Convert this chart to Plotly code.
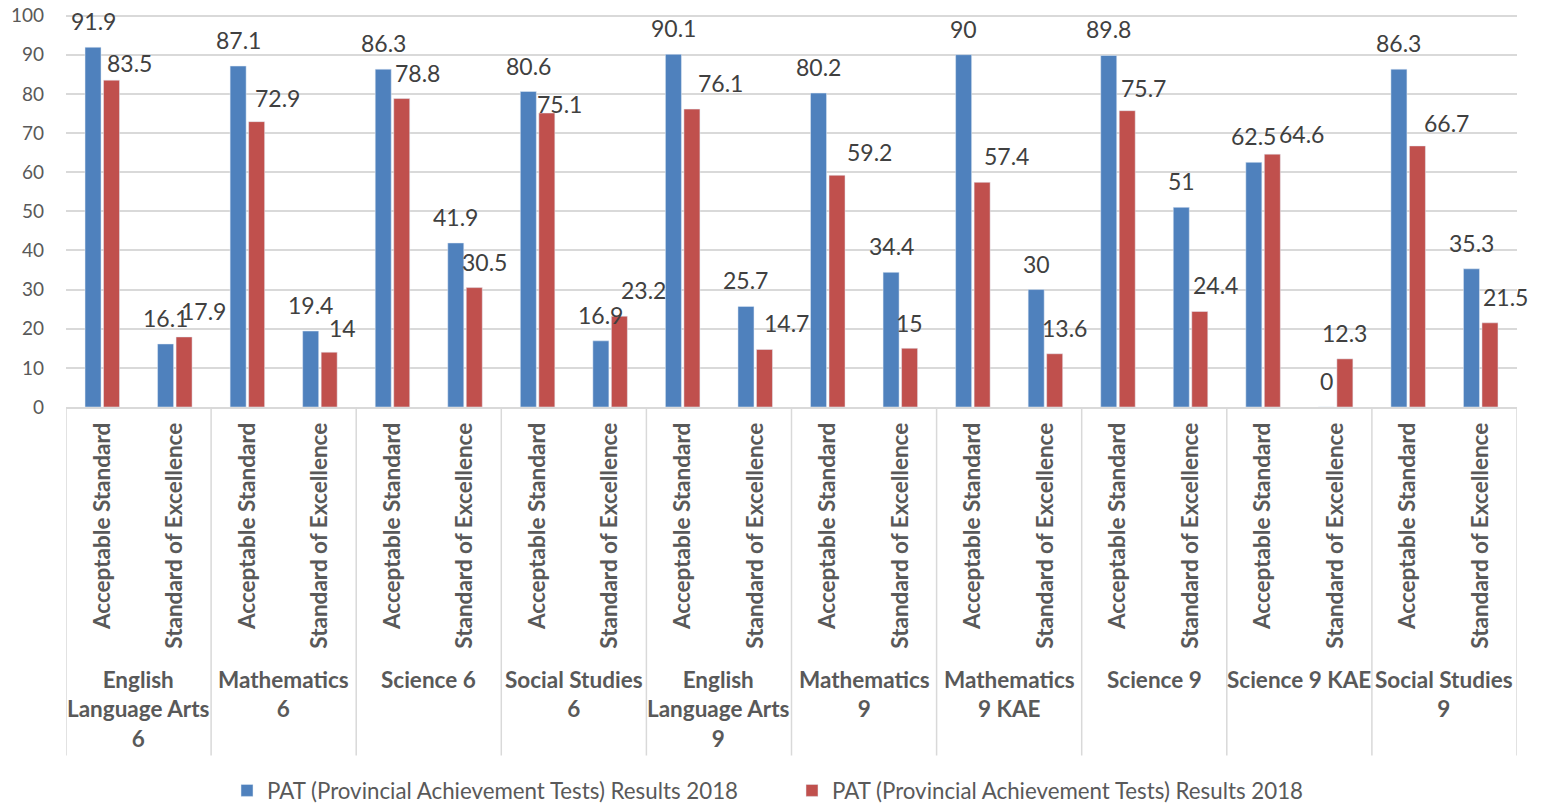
import plotly.graph_objects as go

# ---- data ----
groups = ["English<br>Language Arts<br>6", "Mathematics<br>6", "Science 6", "Social Studies<br>6",
          "English<br>Language Arts<br>9", "Mathematics<br>9", "Mathematics<br>9 KAE", "Science 9",
          "Science 9 KAE", "Social Studies<br>9"]
standards = ["Acceptable Standard", "Standard of Excellence"]
series_name = "PAT (Provincial Achievement Tests) Results 2018"
blue_vals = [91.9, 16.1, 87.1, 19.4, 86.3, 41.9, 80.6, 16.9, 90.1, 25.7,
             80.2, 34.4, 90, 30, 89.8, 51, 62.5, 0, 86.3, 35.3]
red_vals = [83.5, 17.9, 72.9, 14, 78.8, 30.5, 75.1, 23.2, 76.1, 14.7,
            59.2, 15, 57.4, 13.6, 75.7, 24.4, 64.6, 12.3, 66.7, 21.5]
y_ticks = [0, 10, 20, 30, 40, 50, 60, 70, 80, 90, 100]

# ---- style ----
BLUE = "#4F81BD"
RED = "#C0504D"
GRID = "#D9D9D9"
TXT = "#595959"
LBL = "#404040"
FONT = "Lato"
bargap = 0.49
bargroupgap = 0.135
# label placement (pixels): blue labels centred, red labels nudged as in the source
blue_label_dy = 26
red_label_dx = [18, 19, 21, 13, 16, 10, 13, 24, 29, 22, 32, 0, 24, 10, 16, 16, 29, 0, 29, 16]
red_label_dy = [17, 26, 24, 24, 26, 26, 9, 26, 26, 26, 23, 25, 26, 26, 23, 26, 20, 26, 23, 26]

# page has an 8px body margin: figure is sized to fit the 1549x806 window
PAGE_OFF = 8
W, H = 1549 - PAGE_OFF, 806 - PAGE_OFF
Y_TOP = 100.4  # small headroom so the 100 gridline is drawn
PL, PW = 66, 1451
PB = 407  # window y of value 0
PH = 391 * Y_TOP / 100
PT = PB - PH

n = len(blue_vals)
xs = list(range(n))
tick_text = [standards[i % 2] for i in xs]

fig = go.Figure()
fig.add_trace(go.Bar(x=xs, y=blue_vals, name=series_name, marker_color=BLUE))
fig.add_trace(go.Bar(x=xs, y=red_vals, name=series_name, marker_color=RED))

slot = (1 - bargap) / 2
annotations = []
for i in xs:
    annotations.append(dict(x=i - slot / 2, y=blue_vals[i], xref="x", yref="y",
                            text=f"{blue_vals[i]:g}", showarrow=False, yanchor="middle",
                            yshift=blue_label_dy, font=dict(family=FONT, size=23, color=LBL)))
    annotations.append(dict(x=i + slot / 2, y=red_vals[i], xref="x", yref="y",
                            text=f"{red_vals[i]:g}", showarrow=False, yanchor="middle",
                            xshift=red_label_dx[i], yshift=red_label_dy[i],
                            font=dict(family=FONT, size=23, color=LBL)))

def py(page_y):
    return (PB - page_y) / PH

def px(page_x):
    return (page_x - PL) / PW

for g, name in enumerate(groups):
    annotations.append(dict(x=2 * g + 0.5, y=py(664), xref="x", yref="paper",
                            text=f"<b>{name}</b>", showarrow=False, yanchor="top", xanchor="center",
                            align="center", font=dict(family=FONT, size=22.5, color=TXT)))

shapes = []
for g in range(len(groups) + 1):
    shapes.append(dict(type="line", xref="x", yref="paper", x0=2 * g - 0.5, x1=2 * g - 0.5,
                       y0=0, y1=py(755), line=dict(color=GRID, width=1.5)))
shapes.append(dict(type="line", xref="paper", yref="paper", x0=px(1545), x1=px(1545),
                   y0=py(0), y1=py(806), line=dict(color=GRID, width=1.5)))

fig.update_layout(
    width=W, height=H,
    margin=dict(l=PL - PAGE_OFF, r=W - (PL - PAGE_OFF) - PW, t=PT - PAGE_OFF,
                b=H - (PB - PAGE_OFF), autoexpand=False),
    paper_bgcolor="white", plot_bgcolor="white",
    barmode="group", bargap=bargap, bargroupgap=bargroupgap,
    font=dict(family=FONT, color=TXT),
    showlegend=True,
    legend=dict(orientation="h", x=px(792), xanchor="center",
                y=py(790), yanchor="middle",
                font=dict(family=FONT, size=22.3, color=TXT), itemwidth=30, entrywidth=520,
                traceorder="normal"),
    annotations=annotations, shapes=shapes,
)
fig.update_xaxes(range=[-0.5, n - 0.5], tickmode="array", tickvals=xs, ticktext=tick_text,
                 tickangle=-90, tickfont=dict(family=FONT, size=22.5, color=TXT, weight="bold"),
                 showgrid=False, showline=True, linecolor=GRID, linewidth=1.5, ticks="",
                 ticklabelstandoff=5, zeroline=False, automargin=False)
fig.update_yaxes(range=[0, Y_TOP], tickmode="array", tickvals=y_ticks, showgrid=True, gridcolor=GRID,
                 gridwidth=1.5, zeroline=False, showline=False, ticks="", automargin=False,
                 ticklabeloverflow="allow",
                 tickfont=dict(family=FONT, size=19, color=TXT), ticklabelstandoff=21)

fig.write_html("out.html")
